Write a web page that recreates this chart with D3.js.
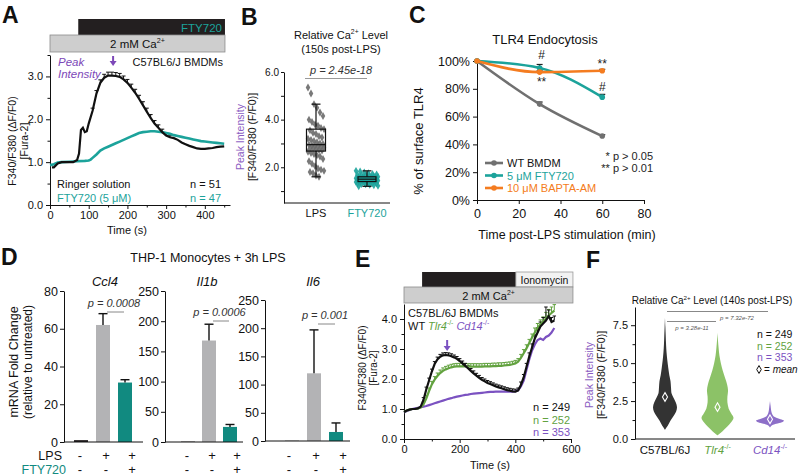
<!DOCTYPE html>
<html><head><meta charset="utf-8">
<script src="https://cdn.jsdelivr.net/npm/d3@7"></script>
<style>body{margin:0;background:#fff}svg{display:block}</style>
</head><body>
<script>
// ================= DATA =================
// Panel A
const aTimeBlack = [5,10,20,30,40,50,60,70,75,80,85,90,95,100,110,120,130,140,150,160,170,180,190,200,210,220,230,240,250,260,270,280,290,300,310,320,330,340,350,360,370,380,390,400,410,420,430,440,450];
const aBlack     = [0.88,0.88,0.97,1.0,1.0,1.0,1.0,1.05,1.2,1.75,1.8,1.7,1.72,1.9,2.2,2.6,2.85,2.97,3.02,3.02,3.01,2.99,2.93,2.85,2.74,2.62,2.48,2.33,2.18,2.03,1.9,1.8,1.7,1.62,1.58,1.56,1.52,1.46,1.42,1.38,1.35,1.32,1.31,1.31,1.32,1.33,1.35,1.36,1.37];
const aBlackErr  = [0,0,0,0,0,0,0,0,0,0,0,0,0,0,0.06,0.07,0.07,0.08,0.08,0.08,0.08,0.08,0.08,0.08,0.08,0.08,0.08,0.08,0.08,0.08,0.07,0.07,0.07,0.06,0.05,0,0,0,0,0,0,0,0,0,0,0,0,0,0];
const aTimeTeal  = [0,10,20,30,50,70,90,100,105,110,120,130,140,150,160,170,180,190,200,210,220,230,240,250,260,270,280,290,300,310,320,330,340,350,360,370,380,390,400,410,420,430,440,450];
const aTeal      = [0.93,0.95,0.99,1.0,1.01,1.02,1.03,1.04,1.06,1.1,1.18,1.27,1.32,1.36,1.4,1.44,1.48,1.52,1.56,1.6,1.64,1.68,1.7,1.71,1.72,1.72,1.71,1.7,1.68,1.66,1.63,1.61,1.59,1.57,1.55,1.53,1.51,1.49,1.48,1.47,1.46,1.45,1.44,1.43];
const aXTicks = [0,100,200,300,400];
const aYTicks = [0,1,2,3];

// Panel B
const bCategories = ["LPS","FTY720"];
const bLPS = [5.35,5.1,4.65,4.5,4.3,4.15,4.0,3.9,3.8,3.75,3.65,3.6,3.55,3.45,3.4,3.3,3.25,3.2,3.15,3.1,3.05,3.0,2.98,2.95,2.92,2.9,2.88,2.85,2.82,2.8,2.78,2.75,2.72,2.7,2.65,2.6,2.55,2.5,2.45,2.35,2.25,2.15,2.05,1.95,1.9,1.85,1.8,1.75,1.65,1.6];
const bFTY = [1.85,1.82,1.78,1.75,1.72,1.7,1.68,1.66,1.65,1.63,1.62,1.6,1.59,1.58,1.57,1.56,1.55,1.54,1.53,1.52,1.51,1.5,1.5,1.49,1.48,1.47,1.46,1.45,1.44,1.43,1.42,1.41,1.4,1.39,1.38,1.37,1.36,1.35,1.34,1.33,1.32,1.3,1.28,1.26,1.24,1.22,1.2];
const bBoxLPS = [1.6,2.68,2.95,3.6,4.65];   // whiskerLow, q1, median, q3, whiskerHigh
const bBoxFTY = [1.2,1.4,1.5,1.6,1.85];
const bYTicks = [2,4,6];

// Panel C
const cTimes = [0,30,60];
const cWT    = [100,69,46];
const cFTY   = [100,95,74];
const cBAPTA = [100,92,93];
const cErrWT = [0,1.5,1], cErrFTY = [0,2.5,2], cErrBAPTA = [0,1,1];
const cSeriesNames = ["WT BMDM","5 \u03bcM FTY720","10 \u03bcM BAPTA-AM"];
const cXTicks = [0,20,40,60,80];
const cYTicks = [0,20,40,60,80,100];

// Panel D
const dGenes = ["Ccl4","Il1b","Il6"];
const dMeans = [[1,62,31.5],[0.6,168,25],[0.4,120,16]];
const dErr   = [[0,6,1.5],[0,27,4],[0,77,16]];
const dPvals = ["p = 0.0008","p = 0.0006","p = 0.001"];
const dYMax  = [80,250,250];
const dTicks = [[0,20,40,60,80],[0,50,100,150,200,250],[0,50,100,150,200,250]];
const dLPS = ["-","+","+"], dFTYrow = ["-","-","+"];

// Panel E
const eTime   = [0,10,20,30,40,50,60,70,80,90,100,110,120,130,140,150,160,170,180,190,200,210,220,230,240,250,260,270,280,290,300,310,320,330,340,350,360,370,380,390,400,410,420,430,440,450,460,470,480,490,500,510,520,530,540];
const eWT     = [0.9,0.95,0.98,1.0,1.0,1.02,1.08,1.3,1.65,1.95,2.25,2.5,2.65,2.74,2.79,2.8,2.79,2.76,2.72,2.67,2.6,2.52,2.44,2.36,2.27,2.19,2.11,2.04,1.97,1.92,1.87,1.83,1.79,1.75,1.72,1.69,1.66,1.63,1.61,1.59,1.58,1.62,1.8,2.05,2.4,2.75,3.05,3.35,3.55,3.75,3.85,3.95,4.1,3.9,3.95];
const eTlr4   = [0.9,0.95,0.98,1.0,1.0,1.02,1.05,1.15,1.35,1.6,1.82,1.98,2.1,2.2,2.27,2.32,2.36,2.39,2.41,2.42,2.42,2.42,2.42,2.41,2.41,2.41,2.41,2.41,2.41,2.42,2.42,2.42,2.43,2.43,2.44,2.44,2.45,2.46,2.47,2.49,2.52,2.58,2.7,2.86,3.02,3.2,3.38,3.55,3.7,3.82,3.92,4.02,4.12,4.2,4.28];
const eCd14   = [0.88,0.93,0.97,1.0,1.02,1.04,1.06,1.08,1.1,1.13,1.16,1.19,1.22,1.25,1.28,1.31,1.34,1.36,1.39,1.41,1.43,1.45,1.47,1.48,1.5,1.51,1.52,1.53,1.54,1.55,1.56,1.57,1.57,1.58,1.58,1.58,1.58,1.58,1.58,1.58,1.59,1.62,1.75,1.95,2.3,2.65,2.95,3.15,3.3,3.35,3.3,3.4,3.45,3.55,3.7];
const eErrWT  = [0,0,0,0,0,0,0,0.08,0.08,0.08,0.08,0.08,0.08,0.08,0.08,0.08,0.08,0.08,0.08,0.08,0.08,0.08,0.08,0.08,0.08,0.08,0.08,0.08,0.08,0.08,0.08,0.08,0.08,0.08,0.08,0.08,0.08,0.08,0.08,0.08,0.08,0.08,0.1,0.1,0.12,0.12,0.12,0.12,0.15,0.15,0.2,0.45,0.2,0.15,0.15];
const eErrTlr4= [0,0,0,0,0,0,0,0.08,0.1,0.1,0.1,0.1,0.1,0.1,0.1,0.1,0.1,0.1,0.1,0.1,0.1,0.1,0.1,0.1,0.1,0.1,0.1,0.1,0.1,0.1,0.1,0.1,0.1,0.1,0.1,0.1,0.1,0.1,0.1,0.1,0.1,0.1,0.12,0.12,0.12,0.12,0.12,0.15,0.15,0.15,0.15,0.2,0.2,0.2,0.2];
const eXTicks = [0,200,400,600];
const eYTicks = [0,1,2,3,4];
const eN = ["n = 249","n = 252","n = 353"];

// Panel F
const fGroups = ["C57BL/6J","Tlr4","Cd14"];
const fLevC57  = [0.6,0.9,1.2,1.5,1.8,2.1,2.4,2.7,3.0,3.4,3.8,4.2,4.7,5.2,5.7,6.2,6.8,7.4,8.0];
const fDenC57  = [0,0.25,0.45,0.7,0.92,1.0,0.9,0.72,0.55,0.5,0.46,0.36,0.27,0.19,0.13,0.09,0.06,0.03,0];
const fLevTlr4 = [0.25,0.5,0.8,1.1,1.4,1.7,2.0,2.4,2.8,3.2,3.6,4.0,4.5,5.0,5.5,6.0,6.5,7.0];
const fDenTlr4 = [0,0.3,0.6,0.85,1.0,0.85,0.7,0.62,0.62,0.66,0.6,0.48,0.33,0.21,0.12,0.07,0.03,0];
const fLevCd14 = [0.75,0.9,1.0,1.1,1.2,1.3,1.4,1.5,1.7,1.9,2.2,2.5];
const fDenCd14 = [0,0.15,0.45,0.85,1.0,0.75,0.45,0.25,0.13,0.08,0.04,0];
const fMeans = [2.77,2.1,1.3];
const fYTicks = [0,2.5,5,7.5];
const fN = ["n = 249","n = 252","n = 353"];

// ================= DRAW =================
const FONT = '"Liberation Sans", Arial, Helvetica, sans-serif';
const TEAL = "#1ca39b", TEALD = "#118a80", PURP = "#7d48b8", ORANGE = "#f47c20", GRAYC = "#707070";
const GREEN = "#62a23f", GREENV = "#8cc267", PURPE = "#7b52c1", PURPV = "#8d6fc8";

const svg = d3.select("body").append("svg").attr("width",800).attr("height",476).attr("font-family",FONT);
svg.append("rect").attr("width",800).attr("height",476).attr("fill","#fff");

function rich(g, x, y, parts, o={}) {
  const fs = o.fs||11;
  const t = g.append("text").attr("x",x).attr("y",y).attr("font-size",fs)
    .attr("fill",o.fill||"#111").attr("text-anchor",o.anchor||"start");
  if (o.italic) t.attr("font-style","italic");
  if (o.bold) t.attr("font-weight","bold");
  if (o.rot) t.attr("transform",`rotate(${o.rot},${x},${y})`);
  if (typeof parts === "string") parts = [[parts]];
  let shift = 0;
  parts.forEach(p => {
    const [s, kind, col] = p;
    const ts = t.append("tspan").text(s);
    const target = kind==="sup" ? -fs*0.42 : 0;
    ts.attr("dy", target - shift); shift = target;
    if (kind==="sup") ts.attr("font-size", fs*0.62);
    if (kind==="it") ts.attr("font-style","italic");
    if (col) ts.attr("fill", col);
  });
  return t;
}
function axStyle(sel, fs){
  sel.attr("font-family",FONT).attr("font-size",fs);
  sel.selectAll("path,line").attr("stroke","#111").attr("stroke-width",1);
  sel.selectAll("text").attr("fill","#111");
}
function minor(g, axis, tr){
  const m = g.append("g").attr("transform",tr).call(axis);
  m.select(".domain").remove(); m.selectAll("line").attr("stroke","#111"); m.selectAll("text").remove();
}
function arrowDown(g, x, y1, y2, col){
  g.append("line").attr("x1",x).attr("x2",x).attr("y1",y1).attr("y2",y2-4).attr("stroke",col).attr("stroke-width",2);
  g.append("path").attr("d",`M${x-3.5},${y2-5}L${x+3.5},${y2-5}L${x},${y2}Z`).attr("fill",col);
}
function errCaps(g, xs, ys, errs, xf, yf, col, w, cw){
  xs.forEach((t,i)=>{ if(!errs[i]) return;
    const X = xf(t), Y0 = yf(ys[i]), Y1 = yf(ys[i]+errs[i]);
    g.append("line").attr("x1",X).attr("x2",X).attr("y1",Y0).attr("y2",Y1).attr("stroke",col).attr("stroke-width",w);
    g.append("line").attr("x1",X-cw/2).attr("x2",X+cw/2).attr("y1",Y1).attr("y2",Y1).attr("stroke",col).attr("stroke-width",w);
  });
}
// panel letters
[["A",2,23],["B",241,25],["C",409,23],["D",1,265],["E",355,267],["F",586,268]].forEach(([s,x,y])=>
  rich(svg,x,y,s,{fs:23,bold:true}));

// ---------- Panel A ----------
{
  const g = svg.append("g");
  const x = d3.scaleLinear().domain([0,465]).range([50,230]);
  const y = d3.scaleLinear().domain([0,3.5]).range([205,55]);
  g.append("rect").attr("x",x(73)).attr("y",19).attr("width",x(452)-x(73)).attr("height",16).attr("fill","#231f20");
  rich(g, x(452)-3, 31.5, "FTY720", {fs:11.5, fill:TEAL, anchor:"end"});
  g.append("rect").attr("x",x(0)).attr("y",35).attr("width",x(452)-x(0)).attr("height",17).attr("fill","#cecece").attr("stroke","#8c8c8c").attr("stroke-width",0.8);
  rich(g, (x(0)+x(452))/2, 48, [["2 mM Ca"],["2+","sup"]], {fs:11.5, anchor:"middle"});
  const ax = g.append("g").attr("transform","translate(0,205)").call(d3.axisBottom(x).tickValues(aXTicks).tickSize(4).tickSizeOuter(0).tickPadding(2));
  axStyle(ax, 11);
  minor(g, d3.axisBottom(x).tickValues([50,150,250,350,450]).tickSize(2.5), "translate(0,205)");
  const ay = g.append("g").attr("transform","translate(50,0)").call(d3.axisLeft(y).tickValues(aYTicks).tickSize(4).tickSizeOuter(0).tickPadding(3));
  axStyle(ay, 11);
  minor(g, d3.axisLeft(y).tickValues([0.5,1.5,2.5,3.5]).tickSize(2.5), "translate(50,0)");
  const line = d3.line().x(d=>x(d[0])).y(d=>y(d[1]));
  errCaps(g, aTimeBlack, aBlack, aBlackErr, x, y, "#111", 1, 4);
  g.append("path").attr("d", line(aTimeTeal.map((t,i)=>[t,aTeal[i]]))).attr("fill","none").attr("stroke",TEAL).attr("stroke-width",2.6);
  g.append("path").attr("d", line(aTimeBlack.map((t,i)=>[t,aBlack[i]]))).attr("fill","none").attr("stroke","#111").attr("stroke-width",2.2);
  rich(g, 58, 66, "Peak", {fs:11.5, fill:PURP, italic:true});
  rich(g, 58, 78, "Intensity", {fs:11.5, fill:PURP, italic:true});
  arrowDown(g, x(163), 56, 66, PURP);
  rich(g, 223, 66, "C57BL6/J BMDMs", {fs:11, anchor:"end"});
  rich(g, 57, 188, "Ringer solution", {fs:11});
  rich(g, 221, 188, "n = 51", {fs:11, anchor:"end"});
  rich(g, 57, 202, "FTY720 (5 \u03bcM)", {fs:11, fill:TEAL});
  rich(g, 221, 202, "n = 47", {fs:11, fill:TEAL, anchor:"end"});
  rich(g, 127, 234, "Time (s)", {fs:11, anchor:"middle"});
  rich(g, 16, 141, "F340/F380 (\u0394F/F0)", {fs:10.5, anchor:"middle", rot:-90});
  rich(g, 28, 141, "[Fura-2]", {fs:10.5, anchor:"middle", rot:-90});
}

// ---------- Panel B ----------
{
  const g = svg.append("g");
  const x = d3.scalePoint().domain(bCategories).range([316,367]);
  const y = d3.scaleLinear().domain([0.5,6]).range([203,72]);
  rich(g, 341, 39, [["Relative Ca"],["2+","sup"],[" Level"]], {fs:11, anchor:"middle"});
  rich(g, 341, 53, "(150s post-LPS)", {fs:11, anchor:"middle"});
  const ay = g.append("g").attr("transform","translate(284,0)").call(d3.axisLeft(y).tickValues(bYTicks).tickFormat(d3.format(".1f")).tickSize(3).tickSizeOuter(0).tickPadding(2));
  axStyle(ay, 10);
  minor(g, d3.axisLeft(y).tickValues([1,3,5]).tickSize(3), "translate(284,0)");
  g.append("line").attr("x1",284).attr("x2",390).attr("y1",203).attr("y2",203).attr("stroke","#111");
  bCategories.forEach(c => rich(g, x(c), 217, c, {fs:11, anchor:"middle", fill: c==="LPS" ? "#111" : TEAL}));
  rich(g, 244, 137, "Peak Intensity", {fs:10.5, anchor:"middle", rot:-90, fill:"#8a5cc2"});
  rich(g, 256, 137, "[F340/F380 (F/F0)]", {fs:10.5, anchor:"middle", rot:-90});
  const sym = d3.symbol().type(d3.symbolDiamond).size(18);
  [[bLPS,"LPS","#6a6a6a",8],[bFTY,"FTY720",TEAL,11]].forEach(([vals,c,col,hw])=>{
    vals.forEach((v,i)=>{
      const jx = (((i*37)%17)-8)/8*hw;
      g.append("path").attr("d",sym).attr("transform",`translate(${x(c)+jx},${y(v)})`).attr("fill",col).attr("opacity",0.9);
    });
  });
  [[bBoxLPS,"LPS",9.5],[bBoxFTY,"FTY720",9]].forEach(([b,c,hw])=>{
    const cx = x(c);
    g.append("line").attr("x1",cx).attr("x2",cx).attr("y1",y(b[0])).attr("y2",y(b[1])).attr("stroke","#111").attr("stroke-width",1.2);
    g.append("line").attr("x1",cx).attr("x2",cx).attr("y1",y(b[3])).attr("y2",y(b[4])).attr("stroke","#111").attr("stroke-width",1.2);
    [b[0],b[4]].forEach(v=>g.append("line").attr("x1",cx-4.5).attr("x2",cx+4.5).attr("y1",y(v)).attr("y2",y(v)).attr("stroke","#111").attr("stroke-width",1.2));
    g.append("rect").attr("x",cx-hw).attr("y",y(b[3])).attr("width",2*hw).attr("height",y(b[1])-y(b[3])).attr("fill","none").attr("stroke","#111").attr("stroke-width",1.2);
    g.append("line").attr("x1",cx-hw).attr("x2",cx+hw).attr("y1",y(b[2])).attr("y2",y(b[2])).attr("stroke","#111").attr("stroke-width",1.2);
  });
  rich(g, 341, 74, "p = 2.45e-18", {fs:11, italic:true, anchor:"middle", fill:"#333"});
  g.append("line").attr("x1",305).attr("x2",367).attr("y1",78.5).attr("y2",78.5).attr("stroke","#999").attr("stroke-width",1);
}

// ---------- Panel C ----------
{
  const g = svg.append("g");
  const x = d3.scaleLinear().domain([0,80]).range([477,644]);
  const y = d3.scaleLinear().domain([0,100]).range([200,61]);
  rich(g, 545, 44, "TLR4 Endocytosis", {fs:13, anchor:"middle"});
  const ax = g.append("g").attr("transform","translate(0,200)").call(d3.axisBottom(x).tickValues(cXTicks).tickSize(4).tickSizeOuter(0).tickPadding(5));
  axStyle(ax, 12.5);
  const ay = g.append("g").attr("transform","translate(477,0)").call(d3.axisLeft(y).tickValues(cYTicks).tickFormat(d=>d+"%").tickSize(4).tickSizeOuter(0).tickPadding(3));
  axStyle(ay, 12.5);
  rich(g, 567, 239, "Time post-LPS stimulation (min)", {fs:12.5, anchor:"middle"});
  rich(g, 423, 141, "% of surface TLR4", {fs:13, anchor:"middle", rot:-90});
  const line = d3.line().x(d=>x(d[0])).y(d=>y(d[1])).curve(d3.curveMonotoneX);
  const series = [[cWT,cErrWT,GRAYC],[cFTY,cErrFTY,TEAL],[cBAPTA,cErrBAPTA,ORANGE]];
  series.forEach(([vals,errs,col])=>{
    errCaps(g, cTimes, vals, errs, x, y, "#222", 1.2, 6);
    g.append("path").attr("d", line(cTimes.map((t,i)=>[t,vals[i]]))).attr("fill","none").attr("stroke",col).attr("stroke-width",2.6);
    cTimes.forEach((t,i)=>g.append("circle").attr("cx",x(t)).attr("cy",y(vals[i])).attr("r",2.8).attr("fill",col));
  });
  rich(g, x(30)+2, 59, "#", {fs:12, anchor:"middle", fill:"#222"});
  rich(g, x(30)+2, 86, "**", {fs:12, anchor:"middle", fill:"#222"});
  rich(g, x(60), 68, "**", {fs:12, anchor:"middle", fill:"#222"});
  rich(g, x(60), 91, "#", {fs:12, anchor:"middle", fill:"#222"});
  series.forEach(([v,e,col],i)=>{
    const ly = 163 + i*12.5;
    g.append("line").attr("x1",485).attr("x2",503).attr("y1",ly).attr("y2",ly).attr("stroke",col).attr("stroke-width",2.6);
    g.append("circle").attr("cx",494).attr("cy",ly).attr("r",2.8).attr("fill",col);
    rich(g, 507, ly+4, cSeriesNames[i], {fs:11, fill: i===0 ? "#111" : col});
  });
  rich(g, 653, 160, "* p > 0.05", {fs:11, anchor:"end", fill:"#222"});
  rich(g, 653, 172, "** p > 0.01", {fs:11, anchor:"end", fill:"#222"});
}

// ---------- Panel D ----------
{
  const g = svg.append("g");
  rich(g, 208, 262, "THP-1 Monocytes + 3h LPS", {fs:12.5, anchor:"middle"});
  rich(g, 18, 362, "mRNA Fold Change", {fs:12.5, anchor:"middle", rot:-90});
  rich(g, 32, 362, "(relative to untreated)", {fs:12, anchor:"middle", rot:-90});
  rich(g, 62, 460, "LPS", {fs:12.5, anchor:"end"});
  rich(g, 66, 473.5, "FTY720", {fs:12.5, anchor:"end", fill:TEALD});
  const lay = [
    {ax:64,  xe:143, y0:442, yt:291, bars:[81,125],  signs:[80,132],  gx:105, pY:311},
    {ax:165, xe:243, y0:442, yt:291, bars:[188,230], signs:[187,237], gx:207, pY:320},
    {ax:265, xe:350, y0:441, yt:300, bars:[292,336], signs:[289,343], gx:313, pY:323}];
  const cols = ["#231f20","#b3b3b5",TEALD];
  dGenes.forEach((gene,k)=>{
    const L = lay[k];
    const y = d3.scaleLinear().domain([0,dYMax[k]]).range([L.y0,L.yt]);
    const xb = d3.scalePoint().domain([0,1,2]).range(L.bars);
    const xs = d3.scalePoint().domain([0,1,2]).range(L.signs);
    const ay = g.append("g").attr("transform",`translate(${L.ax},0)`).call(d3.axisLeft(y).tickValues(dTicks[k]).tickSize(4).tickSizeOuter(0).tickPadding(2));
    axStyle(ay, 12.5);
    dMeans[k].forEach((v,i)=>{
      g.append("rect").attr("x",xb(i)-7).attr("y",y(v)).attr("width",14).attr("height",L.y0-y(v)).attr("fill",cols[i]);
      if (dErr[k][i]) {
        const Y1 = y(v+dErr[k][i]);
        g.append("line").attr("x1",xb(i)).attr("x2",xb(i)).attr("y1",y(v)).attr("y2",Y1).attr("stroke","#111").attr("stroke-width",1.4);
        g.append("line").attr("x1",xb(i)-4.5).attr("x2",xb(i)+4.5).attr("y1",Y1).attr("y2",Y1).attr("stroke","#111").attr("stroke-width",1.4);
      }
    });
    g.append("line").attr("x1",L.ax).attr("x2",L.xe).attr("y1",L.y0).attr("y2",L.y0).attr("stroke","#111");
    rich(g, L.gx, 286, gene, {fs:13, italic:true, anchor:"middle"});
    const mid = (xb(1)+xb(2))/2;
    rich(g, mid, L.pY-4, dPvals[k], {fs:11, italic:true, anchor:"middle", fill:"#333"});
    g.append("line").attr("x1",xb(1)+4).attr("x2",xb(2)-1).attr("y1",L.pY+1).attr("y2",L.pY+1).attr("stroke","#888");
    [0,1,2].forEach(i=>{
      rich(g, xs(i), 460, dLPS[i], {fs:13, anchor:"middle"});
      rich(g, xs(i), 473.5, dFTYrow[i], {fs:13, anchor:"middle"});
    });
  });
}

// ---------- Panel E ----------
{
  const g = svg.append("g");
  const x = d3.scaleLinear().domain([0,600]).range([404,571]);
  const y = d3.scaleLinear().domain([0,4.5]).range([439,304]);
  g.append("rect").attr("x",x(65)).attr("y",272).attr("width",x(402)-x(65)).attr("height",15).attr("fill","#231f20");
  g.append("rect").attr("x",x(402)).attr("y",272).attr("width",x(607)-x(402)).attr("height",15).attr("fill","#f2f2f2").attr("stroke","#9a9a9a").attr("stroke-width",0.8);
  rich(g, (x(402)+x(607))/2, 284, "Ionomycin", {fs:10.5, anchor:"middle"});
  g.append("rect").attr("x",x(0)).attr("y",287).attr("width",x(607)-x(0)).attr("height",16).attr("fill","#cecece").attr("stroke","#8c8c8c").attr("stroke-width",0.8);
  rich(g, (x(0)+x(607))/2, 299.5, [["2 mM Ca"],["2+","sup"]], {fs:11, anchor:"middle"});
  const ax = g.append("g").attr("transform","translate(0,439)").call(d3.axisBottom(x).tickValues(eXTicks).tickSize(4).tickSizeOuter(0).tickPadding(2));
  axStyle(ax, 11);
  minor(g, d3.axisBottom(x).tickValues([100,300,500]).tickSize(2.5), "translate(0,439)");
  const ay = g.append("g").attr("transform","translate(404,0)").call(d3.axisLeft(y).tickValues(eYTicks).tickSize(4).tickSizeOuter(0).tickPadding(3));
  axStyle(ay, 11);
  minor(g, d3.axisLeft(y).tickValues([0.5,1.5,2.5,3.5]).tickSize(2.5), "translate(404,0)");
  rich(g, 490, 469, "Time (s)", {fs:11, anchor:"middle"});
  rich(g, 366, 368, "F340/F380 (\u0394F/F0)", {fs:10, anchor:"middle", rot:-90});
  rich(g, 377, 368, "[Fura-2]", {fs:10, anchor:"middle", rot:-90});
  const line = d3.line().x(d=>x(d[0])).y(d=>y(d[1]));
  errCaps(g, eTime, eTlr4, eErrTlr4, x, y, GREEN, 1, 3.5);
  errCaps(g, eTime, eWT, eErrWT, x, y, "#111", 1, 3.5);
  [[eCd14,PURPE],[eTlr4,GREEN],[eWT,"#111"]].forEach(([vals,col])=>{
    g.append("path").attr("d", line(eTime.map((t,i)=>[t,vals[i]]))).attr("fill","none").attr("stroke",col).attr("stroke-width",2.2);
  });
  rich(g, 408, 317, "C57BL/6J BMDMs", {fs:11});
  rich(g, 408, 330, [["WT  "],["Tlr4","it",GREEN],["-/-","sup",GREEN],["  "],["Cd14","it",PURPE],["-/-","sup",PURPE]], {fs:11});
  arrowDown(g, x(155), 340, 351, PURPE);
  [["#111"],[GREEN],[PURPE]].forEach(([col],i)=> rich(g, 533, 411+i*12.5, eN[i], {fs:11, fill:col}));
}

// ---------- Panel F ----------
{
  const g = svg.append("g");
  const x = d3.scalePoint().domain(fGroups).range([665,770]);
  const y = d3.scaleLinear().domain([0,8.7]).range([439,307]);
  rich(g, 712, 304, [["Relative Ca"],["2+","sup"],[" Level (140s post-LPS)"]], {fs:10, anchor:"middle"});
  const ay = g.append("g").attr("transform","translate(635,0)").call(d3.axisLeft(y).tickValues(fYTicks).tickFormat(d3.format(".1f")).tickSize(4).tickSizeOuter(0).tickPadding(3));
  axStyle(ay, 11);
  minor(g, d3.axisLeft(y).tickValues([1.25,3.75,6.25]).tickSize(2.5), "translate(635,0)");
  g.append("line").attr("x1",635).attr("x2",795).attr("y1",439).attr("y2",439).attr("stroke","#111");
  rich(g, 593, 375, "Peak Intensity", {fs:10.5, anchor:"middle", rot:-90, fill:"#8a5cc2"});
  rich(g, 605, 375, "[F340/F380 (F/F0)]", {fs:10.5, anchor:"middle", rot:-90});
  rich(g, x("C57BL/6J"), 454, "C57BL/6J", {fs:11.5, anchor:"middle"});
  rich(g, x("Tlr4"), 454, [["Tlr4","it"],["-/-","sup"]], {fs:11.5, anchor:"middle", fill:GREEN});
  rich(g, x("Cd14"), 454, [["Cd14","it"],["-/-","sup"]], {fs:11.5, anchor:"middle", fill:PURPE});
  const vio = [[fLevC57,fDenC57,"C57BL/6J","#333333",12],[fLevTlr4,fDenTlr4,"Tlr4",GREENV,16],[fLevCd14,fDenCd14,"Cd14",PURPV,14]];
  vio.forEach(([lev,den,grp,col,hw],k)=>{
    const cx = x(grp);
    const area = d3.area().y(d=>y(d[0])).x0(d=>cx-hw*d[1]).x1(d=>cx+hw*d[1]).curve(d3.curveCatmullRom.alpha(0.5));
    g.append("path").attr("d", area(lev.map((v,i)=>[v,den[i]]))).attr("fill",col);
    g.append("path").attr("d", d3.symbol().type(d3.symbolDiamond).size(22)).attr("transform",`translate(${cx},${y(fMeans[k])})`).attr("fill","none").attr("stroke","#fff").attr("stroke-width",1.1);
  });
  g.append("line").attr("x1",667).attr("x2",768).attr("y1",311.5).attr("y2",311.5).attr("stroke","#888");
  rich(g, 737, 319.5, "p = 7.32e-72", {fs:6, italic:true, anchor:"middle", fill:"#555"});
  g.append("line").attr("x1",667).attr("x2",716).attr("y1",321.5).attr("y2",321.5).attr("stroke","#888");
  rich(g, 692, 330, "p = 3.28e-11", {fs:6, italic:true, anchor:"middle", fill:"#555"});
  [["#111"],[GREEN],[PURPE]].forEach(([col],i)=> rich(g, 757, 338+i*11.6, fN[i], {fs:10.5, fill:col}));
  g.append("path").attr("d", d3.symbol().type(d3.symbolDiamond).size(18)).attr("transform","translate(759,369.5)").attr("fill","none").attr("stroke","#111").attr("stroke-width",1);
  rich(g, 764, 373, [["= "],["mean","it"]], {fs:10});
}
</script>
</body></html>
